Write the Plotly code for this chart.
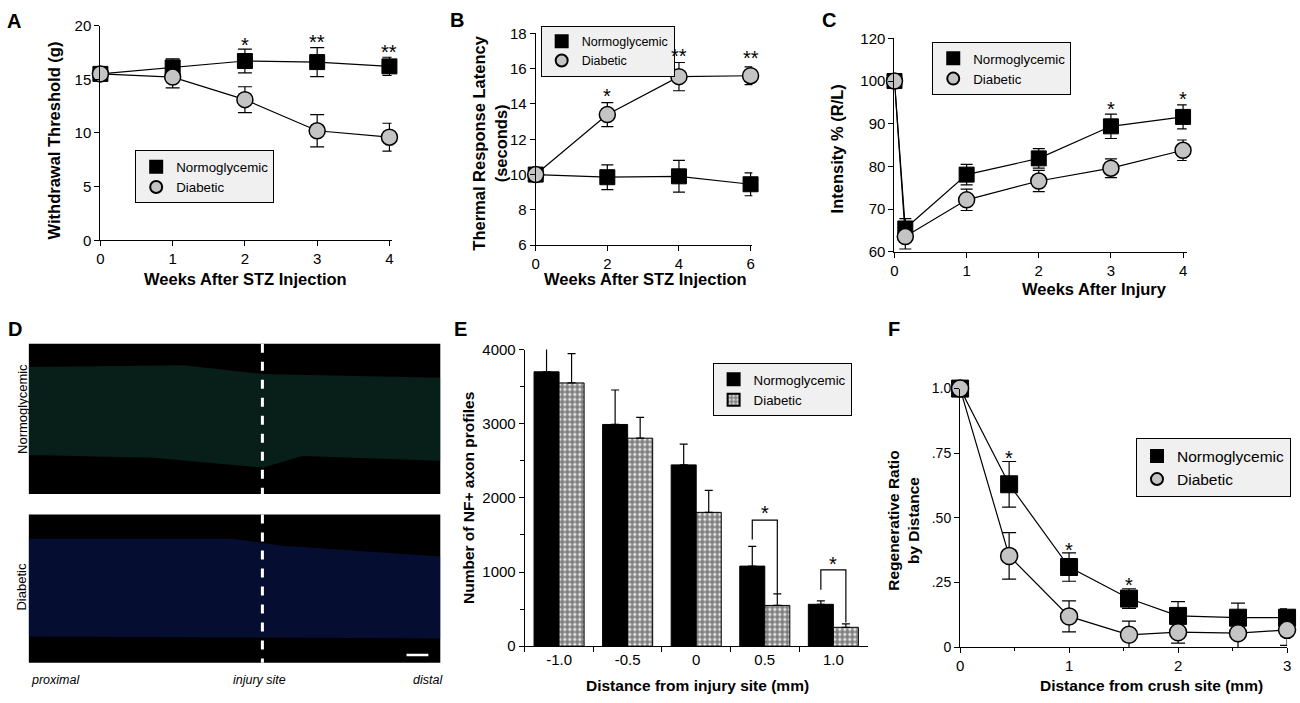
import plotly.graph_objects as go

W, H = 1300, 703
FONT = "Liberation Sans, Arial, sans-serif"


def px(x):
    return x / W


def py(y):
    return 1 - y / H


# ---- panel A: withdrawal threshold
weeks_a = [0, 1, 2, 3, 4]
a_norm = [15.5, 16.1, 16.7, 16.6, 16.2]
a_norm_err = [0, 0.8, 1.1, 1.35, 0.85]
a_diab = [15.5, 15.2, 13.1, 10.2, 9.6]
a_diab_err = [0, 1.0, 1.2, 1.5, 1.3]
a_star_x = [2, 3, 4]
a_star_txt = ['*', '**', '**']
a_star_y = [18.7, 18.9, 18.0]

# ---- panel B: thermal latency
weeks_b = [0, 2, 4, 6]
b_norm = [10.0, 9.85, 9.9, 9.45]
b_norm_err = [0, 0.7, 0.9, 0.65]
b_diab = [10.0, 13.4, 15.55, 15.6]
b_diab_err = [0, 0.68, 0.8, 0.5]
b_star_x = [2, 4, 6]
b_star_txt = ['*', '**', '**']
b_star_y = [14.75, 17.0, 16.9]

# ---- panel C: intensity
weeks_c = [0, 0.15, 1, 2, 3, 4]
c_norm = [100, 65.5, 78.1, 81.9, 89.4, 91.6]
c_norm_err = [0, 2.3, 2.4, 2.3, 2.85, 2.8]
c_diab = [100, 63.6, 72.2, 76.6, 79.6, 83.8]
c_diab_err = [0, 2.9, 2.5, 2.5, 2.2, 2.4]
c_star_x = [3, 4]
c_star_y = [94.6, 96.9]
c_tickvals = [60, 70, 80, 90, 100, 110]
c_ticktext = ['60', '70', '80', '90', '100', '120']

# ---- panel E: axon profiles
e_labels = ['-1.0', '-0.5', '0', '0.5', '1.0']
e_norm = [3700, 2990, 2445, 1080, 565]
e_norm_err = [360, 465, 280, 265, 45]
e_diab = [3550, 2805, 1805, 550, 255]
e_diab_err = [395, 280, 295, 155, 45]
e_sig_pos = [3, 4]
e_sig_top = [1700, 1030]
e_sig_left = [1440, 760]
e_sig_right = [700, 320]
e_sig_star = [1870, 1180]

# ---- panel F: regenerative ratio
dist_f = [0, 0.45, 1, 1.55, 2, 2.55, 3]
f_norm = [1.0, 0.63, 0.31, 0.188, 0.121, 0.114, 0.114]
f_norm_err = [0, 0.088, 0.055, 0.038, 0.055, 0.056, 0.034]
f_diab = [1.0, 0.353, 0.119, 0.048, 0.058, 0.054, 0.067]
f_diab_err = [0, 0.09, 0.06, 0.053, 0.042, 0.065, 0.06]
f_star_x = [0.45, 1, 1.55]
f_star_y = [0.75, 0.395, 0.26]

SQ = dict(symbol='square', color='black', line=dict(color='black', width=1))
CI = dict(symbol='circle', color='#c4c4c4', line=dict(color='black', width=1.5))

fig = go.Figure()


def add_series(x, y, err, xa, ya, marker, size, name, legend, cap):
    fig.add_trace(go.Scatter(x=x, y=y, mode='lines', xaxis=xa, yaxis=ya,
                             line=dict(color='black', width=1.2),
                             showlegend=False, hoverinfo='skip', cliponaxis=False))
    fig.add_trace(go.Scatter(x=x, y=y, mode='markers', xaxis=xa, yaxis=ya, name=name,
                             marker=dict(size=size, **marker), legend=legend,
                             cliponaxis=False,
                             error_y=dict(type='data', array=err, color='black',
                                          thickness=1.2, width=cap)))


add_series(weeks_a, a_norm, a_norm_err, 'x', 'y', SQ, 15, 'Normoglycemic', 'legend', 7)
add_series(weeks_a, a_diab, a_diab_err, 'x', 'y', CI, 16, 'Diabetic', 'legend', 7)
add_series(weeks_b, b_norm, b_norm_err, 'x2', 'y2', SQ, 15, 'Normoglycemic', 'legend2', 6)
add_series(weeks_b, b_diab, b_diab_err, 'x2', 'y2', CI, 16, 'Diabetic', 'legend2', 6)
add_series(weeks_c, c_norm, c_norm_err, 'x3', 'y3', SQ, 15, 'Normoglycemic', 'legend3', 6)
add_series(weeks_c, c_diab, c_diab_err, 'x3', 'y3', CI, 16, 'Diabetic', 'legend3', 6)
add_series(dist_f, f_norm, f_norm_err, 'x5', 'y5', SQ, 17, 'Normoglycemic', 'legend5', 7)
add_series(dist_f, f_diab, f_diab_err, 'x5', 'y5', CI, 17, 'Diabetic', 'legend5', 7)

# bars
bargap = 0.27
fig.add_trace(go.Bar(x=list(range(5)), y=e_norm, name='Normoglycemic', xaxis='x4', yaxis='y4',
                     marker=dict(color='black', line=dict(color='black', width=1)),
                     legend='legend4',
                     error_y=dict(type='data', array=e_norm_err, arrayminus=[0] * 5,
                                  symmetric=False, color='black', thickness=1.2, width=4)))
fig.add_trace(go.Bar(x=list(range(5)), y=e_diab, name='Diabetic', xaxis='x4', yaxis='y4',
                     marker=dict(color='white', line=dict(color='black', width=1),
                                 pattern=dict(shape='.', fgcolor='black', bgcolor='white',
                                              size=5, solidity=0.75)),
                     legend='legend4',
                     error_y=dict(type='data', array=e_diab_err, arrayminus=[0] * 5,
                                  symmetric=False, color='black', thickness=1.2, width=4)))

off = (1 - bargap) / 4
bx, by = [], []
for p, top, left, right in zip(e_sig_pos, e_sig_top, e_sig_left, e_sig_right):
    bx += [p - off, p - off, p + off, p + off, None]
    by += [left, top, top, right, None]
fig.add_trace(go.Scatter(x=bx, y=by, mode='lines', xaxis='x4', yaxis='y4',
                         line=dict(color='black', width=1.2), showlegend=False,
                         hoverinfo='skip'))

annotations = []
star_font = dict(family=FONT, size=20, color='black')
for xs, ys, ts, xa, ya in [
        (a_star_x, a_star_y, a_star_txt, 'x', 'y'),
        (b_star_x, b_star_y, b_star_txt, 'x2', 'y2'),
        (c_star_x, c_star_y, ['*'] * len(c_star_x), 'x3', 'y3'),
        (e_sig_pos, e_sig_star, ['*'] * len(e_sig_pos), 'x4', 'y4'),
        (f_star_x, f_star_y, ['*'] * len(f_star_x), 'x5', 'y5')]:
    for x, y, t in zip(xs, ys, ts):
        annotations.append(dict(x=x, y=y, xref=xa, yref=ya, text=t, showarrow=False,
                                font=star_font, yshift=-5))


def axis(domain, rng, tickvals, ticktext=None, anchor=None, size=15, **kw):
    d = dict(domain=domain, range=rng, tickvals=tickvals, showline=True,
             linecolor='black', linewidth=1.2, ticks='outside', ticklen=5,
             tickcolor='black', showgrid=False, zeroline=False, anchor=anchor,
             ticklabeloverflow='allow',
             tickfont=dict(family=FONT, size=size, color='black'))
    if ticktext is not None:
        d['ticktext'] = ticktext
        d['tickmode'] = 'array'
    d.update(kw)
    return d


layout_axes = {
    'xaxis': axis([px(97), px(390)], [0, 4.03], [0, 1, 2, 3, 4], anchor='y'),
    'yaxis': axis([py(237), py(17)], [0, 20], [0, 5, 10, 15, 20], anchor='x'),
    'xaxis2': axis([px(535), px(753)], [0, 6.05], [0, 2, 4, 6], anchor='y2'),
    'yaxis2': axis([py(242), py(25)], [6, 18], [6, 8, 10, 12, 14, 16, 18], anchor='x2'),
    'xaxis3': axis([px(896), px(1190)], [0, 4.05], [0, 1, 2, 3, 4], anchor='y3'),
    'yaxis3': axis([py(249), py(30)], [60, 110], c_tickvals, c_ticktext, anchor='x3'),
    'xaxis4': axis([px(524), px(869)], [-0.5, 4.5], list(range(5)), e_labels, anchor='y4',
                   ticks='', minor=dict(tickvals=[-0.5, 0.5, 1.5, 2.5, 3.5], ticks='outside',
                                        ticklen=5, tickcolor='black')),
    'yaxis4': axis([py(653), py(349)], [0, 4000], [0, 1000, 2000, 3000, 4000], anchor='x4',
                   minor=dict(tickvals=[500, 1500, 2500, 3500], ticks='outside',
                              ticklen=4, tickcolor='black')),
    'xaxis5': axis([px(962), px(1291)], [0, 3.0], [0, 1, 2, 3], anchor='y5',
                   minor=dict(tickvals=[0.5, 1.5, 2.5], ticks='outside', ticklen=3,
                              tickcolor='black')),
    'yaxis5': axis([py(654), py(389)], [0, 1.0], [0, 0.25, 0.5, 0.75, 1.0],
                   ['0', '.25', '.50', '.75', '1.0'], anchor='x5', size=14),
}


def legend(x, y, size=13.3):
    return dict(x=px(x), y=py(y), xanchor='left', yanchor='top', bgcolor='#f0f0f0',
                bordercolor='black', borderwidth=1,
                font=dict(family=FONT, size=size, color='black'),
                itemsizing='constant', tracegroupgap=0)


# axis titles
titles = [
    ('Weeks After STZ Injection', 243, 277, 0, 16.5),
    ('Withdrawal Threshold (g)', 50, 135, -90, 16.5),
    ('Weeks After STZ Injection', 645, 277, 0, 16.5),
    ('Thermal Response Latency<br>(seconds)', 489, 137, -90, 16.5),
    ('Weeks After Injury', 1097, 287, 0, 16.5),
    ('Intensity % (R/L)', 838, 143, -90, 16.5),
    ('Distance from injury site (mm)', 698, 693, 0, 15.5),
    ('Number of NF+ axon profiles', 468, 501, -90, 15.5),
    ('Distance from crush site (mm)', 1155, 693, 0, 15.5),
    ('Regenerative Ratio<br>by Distance', 905, 524, -90, 15.5),
]
for t, x, y, ang, sz in titles:
    annotations.append(dict(x=px(x), y=py(y), xref='paper', yref='paper', text=t,
                            showarrow=False, textangle=ang,
                            font=dict(family=FONT, size=sz, color='black', weight='bold'),
                            xanchor='center', yanchor='middle'))

# panel letters
for t, x, y in [('A', 10, 12), ('B', 456, 11), ('C', 830, 11),
                ('D', 11, 328), ('E', 459, 328), ('F', 896, 328)]:
    annotations.append(dict(x=px(x), y=py(y), xref='paper', yref='paper', text=t,
                            showarrow=False, xanchor='center', yanchor='middle',
                            font=dict(family=FONT, size=20, color='black', weight='bold')))

# panel D micrographs (drawn as plain shapes)
shapes = []
for top, bot in [(343, 497), (518, 670)]:
    shapes.append(dict(type='rect', xref='paper', yref='paper', x0=px(25), x1=px(439),
                       y0=py(bot), y1=py(top), fillcolor='black', line=dict(width=0)))


def path(points):
    s = 'M ' + ' L '.join(f'{px(a):.4f},{py(b):.4f}' for a, b in points) + ' Z'
    return s


shapes.append(dict(type='path', xref='paper', yref='paper', line=dict(width=0),
                   fillcolor='rgba(20,90,70,0.35)',
                   path=path([(25, 367), (180, 365), (260, 374), (439, 378), (439, 463),
                              (300, 458), (260, 470), (150, 460), (25, 457)])))
shapes.append(dict(type='path', xref='paper', yref='paper', line=dict(width=0),
                   fillcolor='rgba(15,40,140,0.35)',
                   path=path([(25, 543), (230, 543), (280, 550), (439, 561), (439, 645),
                              (25, 643)])))
for top, bot in [(343, 497), (518, 670)]:
    shapes.append(dict(type='line', xref='paper', yref='paper', x0=px(260), x1=px(260),
                       y0=py(top), y1=py(bot), line=dict(color='white', width=3, dash='dash')))
shapes.append(dict(type='line', xref='paper', yref='paper', x0=px(405), x1=px(427),
                   y0=py(662), y1=py(662), line=dict(color='white', width=2.5)))

label_font = dict(family=FONT, size=13, color='black')
for t, x, y in [('Normoglycemic', 18, 410), ('Diabetic', 18, 592)]:
    annotations.append(dict(x=px(x), y=py(y), xref='paper', yref='paper', text=t,
                            showarrow=False, textangle=-90, font=label_font,
                            xanchor='center', yanchor='middle'))
for t, x, anc in [('<i>proximal</i>', 25, 'left'), ('<i>injury site</i>', 257, 'center'),
                  ('<i>distal</i>', 444, 'right')]:
    annotations.append(dict(x=px(x), y=py(688), xref='paper', yref='paper', text=t,
                            showarrow=False, font=dict(family=FONT, size=12.5, color='black'),
                            xanchor=anc, yanchor='middle'))

fig.update_layout(
    width=W, height=H, margin=dict(l=0, r=0, t=0, b=0),
    plot_bgcolor='white', paper_bgcolor='white',
    font=dict(family=FONT, color='black'),
    barmode='group', bargap=bargap, bargroupgap=0,
    legend=legend(132, 145),
    legend2=legend(540, 17, size=12.5),
    legend3=legend(934, 34),
    legend4=legend(713, 363),
    legend5=legend(1139, 440, size=15.5),
    annotations=annotations,
    shapes=shapes,
    **layout_axes,
)

# the page body has a default margin; drop it so the figure sits at the window corner
fig.write_html("out.html", config={'displayModeBar': False},
               post_script="document.body.style.margin='0';document.body.style.overflow='hidden';")
